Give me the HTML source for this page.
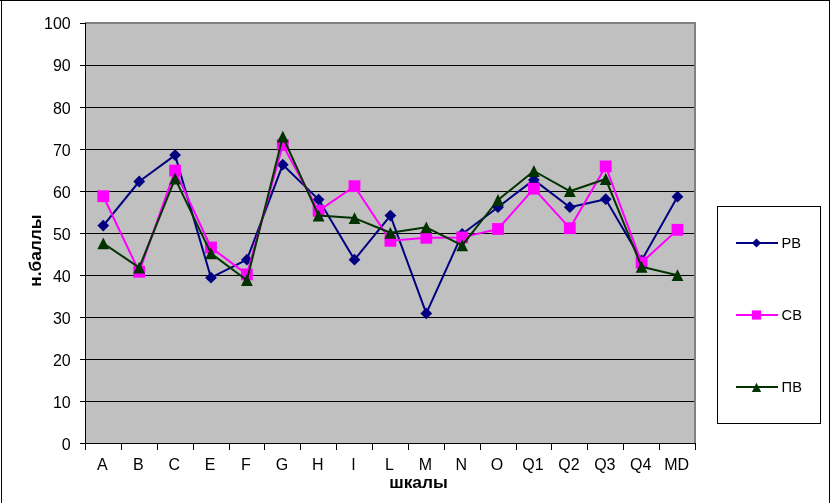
<!DOCTYPE html>
<html lang="ru"><head><meta charset="utf-8"><title>chart</title>
<style>
html,body{margin:0;padding:0;background:#fff;}
body{width:830px;height:503px;overflow:hidden;}
svg{display:block;}
text{font-family:"Liberation Sans",sans-serif;font-size:16px;fill:#000;}
.b{font-weight:bold;font-size:17.33px;}
.lg{font-size:14.67px;}
</style></head><body>
<svg width="830" height="503" viewBox="0 0 830 503">
<rect x="0" y="0" width="830" height="503" fill="#fff"/>
<g shape-rendering="crispEdges">
<rect x="0" y="0" width="830" height="1" fill="#000"/>
<rect x="1" y="0" width="1" height="503" fill="#000"/>
<rect x="829" y="0" width="1" height="503" fill="#000"/>

<rect x="85" y="22" width="611" height="421" fill="#808080"/>
<rect x="85" y="24" width="609" height="419" fill="#c0c0c0"/>
<rect x="80" y="443" width="5" height="1" fill="#000"/>
<rect x="85" y="401" width="609" height="1" fill="#000"/>
<rect x="80" y="401" width="5" height="1" fill="#000"/>
<rect x="85" y="359" width="609" height="1" fill="#000"/>
<rect x="80" y="359" width="5" height="1" fill="#000"/>
<rect x="85" y="317" width="609" height="1" fill="#000"/>
<rect x="80" y="317" width="5" height="1" fill="#000"/>
<rect x="85" y="275" width="609" height="1" fill="#000"/>
<rect x="80" y="275" width="5" height="1" fill="#000"/>
<rect x="85" y="233" width="609" height="1" fill="#000"/>
<rect x="80" y="233" width="5" height="1" fill="#000"/>
<rect x="85" y="191" width="609" height="1" fill="#000"/>
<rect x="80" y="191" width="5" height="1" fill="#000"/>
<rect x="85" y="149" width="609" height="1" fill="#000"/>
<rect x="80" y="149" width="5" height="1" fill="#000"/>
<rect x="85" y="107" width="609" height="1" fill="#000"/>
<rect x="80" y="107" width="5" height="1" fill="#000"/>
<rect x="85" y="65" width="609" height="1" fill="#000"/>
<rect x="80" y="65" width="5" height="1" fill="#000"/>
<rect x="80" y="23" width="5" height="1" fill="#000"/>
<rect x="85" y="23" width="1" height="421" fill="#000"/>
<rect x="85" y="443" width="611" height="1" fill="#000"/>
<rect x="85" y="443" width="1" height="7" fill="#000"/>
<rect x="121" y="443" width="1" height="7" fill="#000"/>
<rect x="157" y="443" width="1" height="7" fill="#000"/>
<rect x="193" y="443" width="1" height="7" fill="#000"/>
<rect x="229" y="443" width="1" height="7" fill="#000"/>
<rect x="264" y="443" width="1" height="7" fill="#000"/>
<rect x="300" y="443" width="1" height="7" fill="#000"/>
<rect x="336" y="443" width="1" height="7" fill="#000"/>
<rect x="372" y="443" width="1" height="7" fill="#000"/>
<rect x="408" y="443" width="1" height="7" fill="#000"/>
<rect x="444" y="443" width="1" height="7" fill="#000"/>
<rect x="480" y="443" width="1" height="7" fill="#000"/>
<rect x="516" y="443" width="1" height="7" fill="#000"/>
<rect x="551" y="443" width="1" height="7" fill="#000"/>
<rect x="587" y="443" width="1" height="7" fill="#000"/>
<rect x="623" y="443" width="1" height="7" fill="#000"/>
<rect x="659" y="443" width="1" height="7" fill="#000"/>
<rect x="695" y="443" width="1" height="7" fill="#000"/>
<rect x="717.5" y="206.5" width="103" height="217" fill="#fff" stroke="#000" stroke-width="1"/>
</g>
<text x="70.7" y="450.2" text-anchor="end">0</text>
<text x="70.7" y="408.2" text-anchor="end">10</text>
<text x="70.7" y="366.2" text-anchor="end">20</text>
<text x="70.7" y="324.2" text-anchor="end">30</text>
<text x="70.7" y="282.2" text-anchor="end">40</text>
<text x="70.7" y="240.2" text-anchor="end">50</text>
<text x="70.7" y="198.2" text-anchor="end">60</text>
<text x="70.7" y="156.2" text-anchor="end">70</text>
<text x="70.7" y="113.8" text-anchor="end">80</text>
<text x="70.7" y="71.3" text-anchor="end">90</text>
<text x="70.7" y="29.2" text-anchor="end">100</text>
<text x="102.4" y="469.5" text-anchor="middle">A</text>
<text x="138.3" y="469.5" text-anchor="middle">B</text>
<text x="174.2" y="469.5" text-anchor="middle">C</text>
<text x="210.1" y="469.5" text-anchor="middle">E</text>
<text x="246.0" y="469.5" text-anchor="middle">F</text>
<text x="281.9" y="469.5" text-anchor="middle">G</text>
<text x="317.7" y="469.5" text-anchor="middle">H</text>
<text x="353.6" y="469.5" text-anchor="middle">I</text>
<text x="389.5" y="469.5" text-anchor="middle">L</text>
<text x="425.4" y="469.5" text-anchor="middle">M</text>
<text x="461.3" y="469.5" text-anchor="middle">N</text>
<text x="497.1" y="469.5" text-anchor="middle">O</text>
<text x="533.0" y="469.5" text-anchor="middle">Q1</text>
<text x="568.9" y="469.5" text-anchor="middle">Q2</text>
<text x="604.8" y="469.5" text-anchor="middle">Q3</text>
<text x="640.7" y="469.5" text-anchor="middle">Q4</text>
<text x="676.6" y="469.5" text-anchor="middle">MD</text>
<text class="b" x="418.5" y="487.8" text-anchor="middle">шкалы</text>
<text class="b" transform="translate(41.0 250.6) rotate(-90)" text-anchor="middle">н.баллы</text>
<polyline points="103.3,225.6 139.2,181.5 175.1,155.1 211.0,277.7 246.9,259.7 282.8,164.7 318.6,199.6 354.5,259.7 390.4,215.6 426.3,313.4 462.2,234.0 498.0,207.2 533.9,179.9 569.8,207.2 605.7,199.2 641.6,260.5 677.5,196.7" fill="none" stroke="#000080" stroke-width="2" stroke-linejoin="round"/>
<g fill="#000080"><path d="M103.3 219.7L109.2 225.6L103.3 231.5L97.4 225.6Z"/><path d="M139.2 175.6L145.1 181.5L139.2 187.4L133.3 181.5Z"/><path d="M175.1 149.2L181.0 155.1L175.1 161.0L169.2 155.1Z"/><path d="M211.0 271.8L216.9 277.7L211.0 283.6L205.1 277.7Z"/><path d="M246.9 253.8L252.8 259.7L246.9 265.6L241.0 259.7Z"/><path d="M282.8 158.8L288.7 164.7L282.8 170.6L276.9 164.7Z"/><path d="M318.6 193.7L324.5 199.6L318.6 205.5L312.7 199.6Z"/><path d="M354.5 253.8L360.4 259.7L354.5 265.6L348.6 259.7Z"/><path d="M390.4 209.7L396.3 215.6L390.4 221.5L384.5 215.6Z"/><path d="M426.3 307.5L432.2 313.4L426.3 319.3L420.4 313.4Z"/><path d="M462.2 228.1L468.1 234.0L462.2 239.9L456.3 234.0Z"/><path d="M498.0 201.3L503.9 207.2L498.0 213.1L492.1 207.2Z"/><path d="M533.9 174.0L539.8 179.9L533.9 185.8L528.0 179.9Z"/><path d="M569.8 201.3L575.7 207.2L569.8 213.1L563.9 207.2Z"/><path d="M605.7 193.3L611.6 199.2L605.7 205.1L599.8 199.2Z"/><path d="M641.6 254.6L647.5 260.5L641.6 266.4L635.7 260.5Z"/><path d="M677.5 190.8L683.4 196.7L677.5 202.6L671.6 196.7Z"/></g>
<polyline points="103.3,196.2 139.2,271.8 175.1,170.6 211.0,247.5 246.9,274.4 282.8,145.0 318.6,210.9 354.5,186.2 390.4,240.8 426.3,237.8 462.2,237.4 498.0,229.0 533.9,188.7 569.8,228.2 605.7,166.4 641.6,262.6 677.5,229.8" fill="none" stroke="#ff00ff" stroke-width="2" stroke-linejoin="round"/>
<g fill="#ff00ff"><rect x="97.4" y="190.3" width="11.8" height="11.8"/><rect x="133.3" y="265.9" width="11.8" height="11.8"/><rect x="169.2" y="164.7" width="11.8" height="11.8"/><rect x="205.1" y="241.6" width="11.8" height="11.8"/><rect x="241.0" y="268.5" width="11.8" height="11.8"/><rect x="276.9" y="139.1" width="11.8" height="11.8"/><rect x="312.7" y="205.0" width="11.8" height="11.8"/><rect x="348.6" y="180.3" width="11.8" height="11.8"/><rect x="384.5" y="234.9" width="11.8" height="11.8"/><rect x="420.4" y="231.9" width="11.8" height="11.8"/><rect x="456.3" y="231.5" width="11.8" height="11.8"/><rect x="492.1" y="223.1" width="11.8" height="11.8"/><rect x="528.0" y="182.8" width="11.8" height="11.8"/><rect x="563.9" y="222.3" width="11.8" height="11.8"/><rect x="599.8" y="160.5" width="11.8" height="11.8"/><rect x="635.7" y="256.7" width="11.8" height="11.8"/><rect x="671.6" y="223.9" width="11.8" height="11.8"/></g>
<polyline points="103.3,243.3 139.2,267.6 175.1,178.6 211.0,253.4 246.9,280.2 282.8,136.6 318.6,215.6 354.5,218.1 390.4,232.8 426.3,227.3 462.2,245.4 498.0,200.0 533.9,171.0 569.8,191.2 605.7,179.0 641.6,266.8 677.5,275.2" fill="none" stroke="#003300" stroke-width="2" stroke-linejoin="round"/>
<g fill="#003300"><path d="M103.3 237.4L109.2 249.2L97.4 249.2Z"/><path d="M139.2 261.7L145.1 273.5L133.3 273.5Z"/><path d="M175.1 172.7L181.0 184.5L169.2 184.5Z"/><path d="M211.0 247.5L216.9 259.3L205.1 259.3Z"/><path d="M246.9 274.3L252.8 286.1L241.0 286.1Z"/><path d="M282.8 130.7L288.7 142.5L276.9 142.5Z"/><path d="M318.6 209.7L324.5 221.5L312.7 221.5Z"/><path d="M354.5 212.2L360.4 224.0L348.6 224.0Z"/><path d="M390.4 226.9L396.3 238.7L384.5 238.7Z"/><path d="M426.3 221.4L432.2 233.2L420.4 233.2Z"/><path d="M462.2 239.5L468.1 251.3L456.3 251.3Z"/><path d="M498.0 194.1L503.9 205.9L492.1 205.9Z"/><path d="M533.9 165.1L539.8 176.9L528.0 176.9Z"/><path d="M569.8 185.3L575.7 197.1L563.9 197.1Z"/><path d="M605.7 173.1L611.6 184.9L599.8 184.9Z"/><path d="M641.6 260.9L647.5 272.7L635.7 272.7Z"/><path d="M677.5 269.3L683.4 281.1L671.6 281.1Z"/></g>
<rect x="736" y="242" width="42" height="2" fill="#000080" shape-rendering="crispEdges"/>
<g fill="#000080"><path d="M756.5 238.4L761.1 243.0L756.5 247.6L751.9 243.0Z"/></g>
<text class="lg" x="781.6" y="247.5">РВ</text>
<rect x="736" y="314" width="42" height="2" fill="#ff00ff" shape-rendering="crispEdges"/>
<g fill="#ff00ff"><rect x="751.9" y="310.4" width="9.2" height="9.2"/></g>
<text class="lg" x="781.6" y="319.5">СВ</text>
<rect x="736" y="386" width="42" height="2" fill="#003300" shape-rendering="crispEdges"/>
<g fill="#003300"><path d="M756.5 382.8L761.1 392.0L751.9 392.0Z"/></g>
<text class="lg" x="781.6" y="391.5">ПВ</text>
</svg></body></html>
